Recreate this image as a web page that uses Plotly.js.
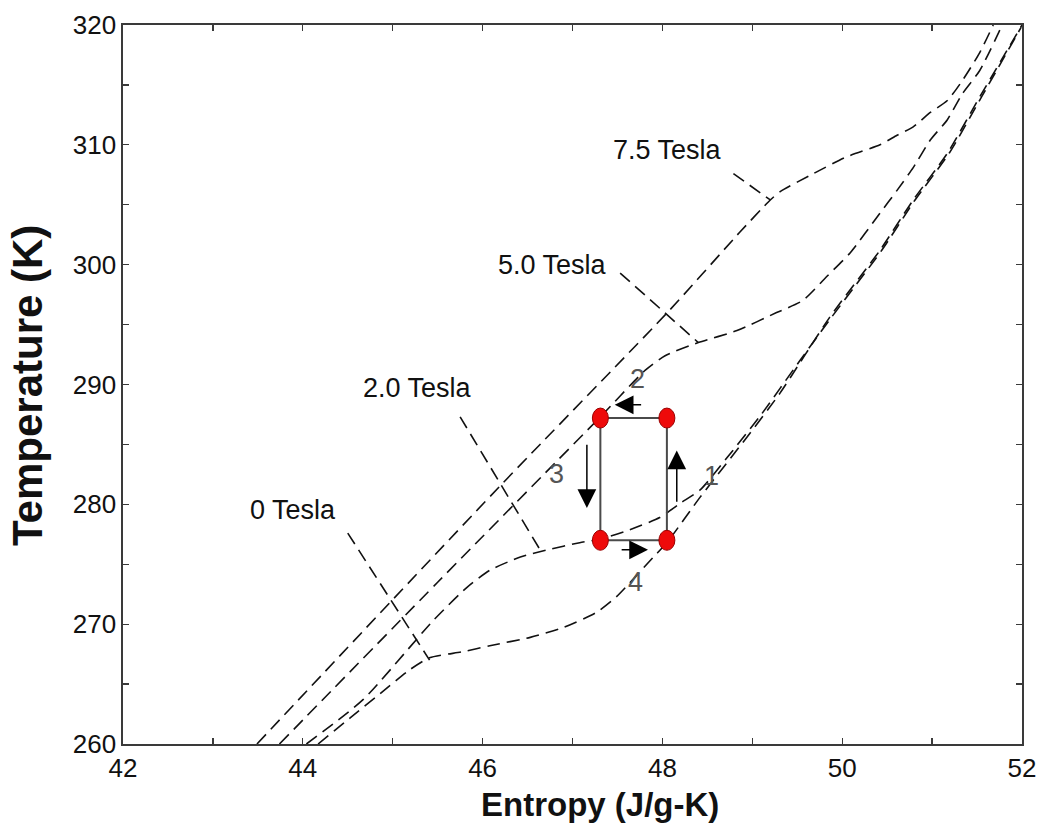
<!DOCTYPE html>
<html>
<head>
<meta charset="utf-8">
<script src="https://cdn.plot.ly/plotly-3.0.1.min.js"></script>
<style>
  html, body { margin: 0; padding: 0; background: #ffffff; }
  #chart { width: 1043px; height: 836px; }
</style>
</head>
<body>
<div id="chart"></div>
<script>
// Temperature-entropy curves of the refrigerant at four applied fields
const s0T  = [44.17, 44.53, 44.86, 45.19, 45.41, 45.78, 46.08, 46.53, 46.89, 47.27, 47.49, 47.90, 48.05, 48.42, 48.94, 49.31, 49.86, 50.42, 50.79, 51.17, 51.53, 52.00];
const t0T  = [260.0, 262.2, 264.2, 266.2, 267.2, 267.7, 268.2, 268.9, 269.7, 271.0, 272.3, 275.6, 276.8, 280.6, 285.6, 289.3, 295.6, 301.2, 305.4, 309.3, 314.0, 320.0];

const s2T  = [44.04, 44.67, 45.45, 45.83, 46.08, 46.42, 46.72, 47.08, 47.31, 47.61, 47.97, 48.20, 48.42, 48.72, 49.09, 49.53, 49.88, 50.44, 50.81, 51.19, 51.55, 51.99];
const t2T  = [260.0, 263.7, 270.3, 273.1, 274.5, 275.6, 276.2, 276.8, 277.1, 277.8, 278.9, 280.1, 281.2, 283.9, 287.4, 292.0, 295.6, 301.2, 305.4, 309.3, 314.0, 319.8];

const s5T  = [43.74, 45.50, 47.31, 47.81, 48.03, 48.40, 48.83, 49.27, 49.56, 49.84, 50.09, 50.42, 50.61, 50.79, 50.98, 51.17, 51.34, 51.53, 51.78];
const t5T  = [260.0, 273.5, 287.3, 291.2, 292.4, 293.5, 294.5, 296.0, 297.0, 299.1, 301.0, 304.3, 306.2, 308.1, 310.4, 312.1, 314.3, 316.2, 320.0];

const s75T = [43.49, 46.19, 48.08, 48.86, 49.20, 49.31, 49.68, 50.05, 50.42, 50.61, 50.79, 50.98, 51.17, 51.34, 51.53, 51.68];
const t75T = [260.0, 281.5, 296.2, 302.7, 305.4, 306.1, 307.6, 309.0, 310.0, 310.8, 311.5, 312.7, 313.7, 315.4, 317.7, 320.0];

// Curve names and where their labels sit
const fieldNames  = ["0 Tesla", "2.0 Tesla", "5.0 Tesla", "7.5 Tesla"];
const labelS      = [43.89, 45.28, 46.78, 48.06];
const labelT      = [279.5, 289.7, 300.0, 309.6];
// Leader lines from each label to its curve: [start, end]
const leaderS     = [[44.50, 45.41], [45.75, 46.64], [47.53, 48.40], [48.79, 49.20]];
const leaderT     = [[277.6, 267.0], [287.3, 276.2], [299.3, 293.5], [307.6, 305.4]];

// Refrigeration cycle corners (S, T), closed loop
const cycleS = [47.31, 48.05, 48.05, 47.31, 47.31];
const cycleT = [287.2, 287.2, 277.0, 277.0, 287.2];

// Process step numbers
const stepNames = ["1", "2", "3", "4"];
const stepS     = [48.55, 47.72, 46.82, 47.70];
const stepT     = [282.4, 290.5, 282.5, 273.5];

// Process direction arrows: tail -> head
const arrowTailS = [48.16, 47.78, 47.16, 47.53];
const arrowTailT = [280.1, 288.3, 285.1, 276.2];
const arrowHeadS = [48.16, 47.47, 47.16, 47.84];
const arrowHeadT = [284.5, 288.3, 279.7, 276.2];

// Axis ticks
const xTickVals   = [42, 43, 44, 45, 46, 47, 48, 49, 50, 51, 52];
const xTickLabels = ["42", "", "44", "", "46", "", "48", "", "50", "", "52"];
const yTickVals   = [260, 265, 270, 275, 280, 285, 290, 295, 300, 305, 310, 315, 320];
const yTickLabels = ["260", "", "270", "", "280", "", "290", "", "300", "", "310", "", "320"];

const FONT = "Liberation Sans, Arial, Helvetica, sans-serif";
const dashed = { color: "#111111", width: 1.6, dash: "13px,7px" };

const curves = [[s0T, t0T], [s2T, t2T], [s5T, t5T], [s75T, t75T]];
const traces = curves.map((c, i) => ({
  x: c[0], y: c[1], type: "scatter", mode: "lines",
  name: fieldNames[i], hoverinfo: "skip",
  line: Object.assign({ shape: "spline", smoothing: 0.6 }, dashed)
}));

leaderS.forEach((ls, i) => {
  traces.push({
    x: ls, y: leaderT[i], type: "scatter", mode: "lines",
    hoverinfo: "skip", showlegend: false,
    line: Object.assign({}, dashed)
  });
});

traces.push({
  x: cycleS, y: cycleT, type: "scatter", mode: "lines",
  hoverinfo: "skip", showlegend: false,
  line: { color: "#4a4a4a", width: 2 }
});

// Red state points at the cycle corners (slightly tall ellipses)
const shapes = cycleS.slice(0, 4).map((s, i) => ({
  type: "circle", layer: "above",
  xref: "x", yref: "y", xsizemode: "pixel", ysizemode: "pixel",
  xanchor: s, yanchor: cycleT[i],
  x0: -8, x1: 8, y0: -10, y1: 10,
  fillcolor: "#ee0a0a", line: { color: "#9a0000", width: 1 }
}));

const annotations = [];
fieldNames.forEach((name, i) => {
  annotations.push({
    x: labelS[i], y: labelT[i], xref: "x", yref: "y",
    text: name, showarrow: false,
    font: { family: FONT, size: 27, color: "#111111" }
  });
});
stepNames.forEach((n, i) => {
  annotations.push({
    x: stepS[i], y: stepT[i], xref: "x", yref: "y",
    text: n, showarrow: false,
    font: { family: FONT, size: 27, color: "#555555" }
  });
});
arrowHeadS.forEach((hs, i) => {
  annotations.push({
    x: hs, y: arrowHeadT[i], ax: arrowTailS[i], ay: arrowTailT[i],
    xref: "x", yref: "y", axref: "x", ayref: "y",
    text: "", showarrow: true, arrowhead: 2, arrowsize: 2.5,
    arrowwidth: 1.5, arrowcolor: "#000000"
  });
});
// Axis titles
annotations.push({
  xref: "paper", yref: "paper", x: 0.531, y: -0.084,
  xanchor: "center", yanchor: "middle", showarrow: false,
  text: "<b>Entropy (J/g-K)</b>",
  font: { family: FONT, size: 33, color: "#111111" }
});
annotations.push({
  xref: "paper", yref: "paper", x: -0.106, y: 0.499,
  xanchor: "center", yanchor: "middle", showarrow: false, textangle: -90,
  text: "<b>Temperature (K)</b>",
  font: { family: FONT, size: 42, color: "#111111" }
});

const axisCommon = {
  showgrid: false, zeroline: false,
  showline: true, linecolor: "#3a3a3a", linewidth: 1.6,
  mirror: "ticks", ticks: "inside", ticklen: 6, tickwidth: 1.2, tickcolor: "#3a3a3a",
  tickfont: { family: FONT, size: 26, color: "#111111" }
};

const layout = {
  width: 1043, height: 836,
  margin: { l: 123, r: 21, t: 25, b: 92 },
  paper_bgcolor: "#ffffff", plot_bgcolor: "#ffffff",
  showlegend: false,
  xaxis: Object.assign({}, axisCommon, {
    range: [42, 52], tickmode: "array", tickvals: xTickVals, ticktext: xTickLabels
  }),
  yaxis: Object.assign({}, axisCommon, {
    range: [260, 320], tickmode: "array", tickvals: yTickVals, ticktext: yTickLabels
  }),
  shapes: shapes,
  annotations: annotations
};

Plotly.newPlot("chart", traces, layout, { displayModeBar: false, staticPlot: true });
</script>
</body>
</html>
